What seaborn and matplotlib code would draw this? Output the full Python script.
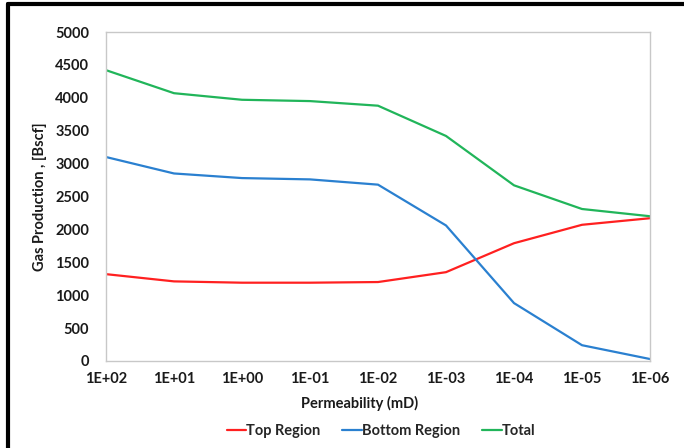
import matplotlib
matplotlib.use("Agg")
import matplotlib.pyplot as plt
import seaborn as sns
import pandas as pd
from matplotlib.lines import Line2D

permeability = ["1E+02", "1E+01", "1E+00", "1E-01", "1E-02", "1E-03", "1E-04", "1E-05", "1E-06"]
top_region = [1320, 1210, 1190, 1190, 1200, 1350, 1790, 2070, 2170]
bottom_region = [3100, 2850, 2780, 2760, 2680, 2060, 880, 240, 30]
total = [4420, 4070, 3970, 3950, 3880, 3420, 2670, 2310, 2200]
series_names = ["Top Region", "Bottom Region", "Total"]
colors = ["#FF2020", "#2A80D0", "#21B55A"]

sns.set_theme(style="white")
plt.rcParams["font.family"] = ["Lato", "DejaVu Sans"]
plt.rcParams["font.weight"] = "bold"

rows = []
for name, vals in zip(series_names, [top_region, bottom_region, total]):
    for p, v in zip(permeability, vals):
        rows.append({"Permeability": p, "Value": v, "Series": name})
df = pd.DataFrame(rows)

fig = plt.figure(figsize=(6.84, 4.48), dpi=100)
ax = fig.add_axes([106/684, 1-361/448, (650-106)/684, (361-32)/448])
sns.lineplot(data=df, x="Permeability", y="Value", hue="Series",
             palette=dict(zip(series_names, colors)), linewidth=1.6,
             ax=ax, legend=False, sort=False)

ax.set_xlim(0, len(permeability)-1)
ax.set_ylim(0, 5000)
ax.set_yticks(range(0, 5001, 500))
ax.set_xticks(range(len(permeability)))
ax.set_xticklabels(permeability)
ax.tick_params(axis="x", labelsize=10.5, length=0, pad=8, colors="#1a1a1a")
ax.tick_params(axis="y", labelsize=10.5, length=0, pad=12, colors="#1a1a1a")
for lab in ax.get_xticklabels() + ax.get_yticklabels():
    lab.set_fontweight("bold")
for s in ax.spines.values():
    s.set_color("#C8C8C8")
    s.set_linewidth(1.0)
ax.set_xlabel("Permeability (mD)", fontsize=10.5, fontweight="bold", color="#1a1a1a")
ax.xaxis.set_label_coords((360-106)/544, -(396-361)/329, transform=ax.transAxes)
ax.set_ylabel("Gas Production , [Bscf]", fontsize=10.5, fontweight="bold", labelpad=6, color="#1a1a1a")

handles = [Line2D([0], [0], color=c, lw=1.6) for c in colors]
fig.legend(handles, series_names, loc="center", bbox_to_anchor=(381/684, 1-431/448),
           ncol=3, frameon=False, handlelength=1.35, handletextpad=0.0,
           columnspacing=1.5, borderaxespad=0, prop={"weight": "bold", "size": 10.5})

# outer black frame (left and top visible)
fig.add_artist(Line2D([8/684, 8/684], [0, 1-4/448], color="black", lw=3, transform=fig.transFigure))
fig.add_artist(Line2D([8/684, 1], [1-4/448, 1-4/448], color="black", lw=3, transform=fig.transFigure))

fig.savefig("out.png", dpi=100)
